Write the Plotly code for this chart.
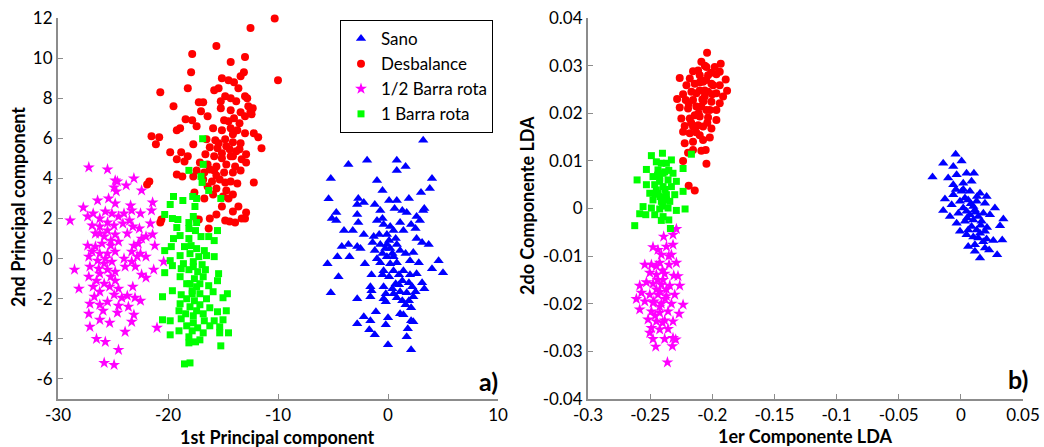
import plotly.graph_objects as go

# ---------------- PCA projection (panel a) ----------------
sano_pca = [
    (3.2, 5.9), (-3.6, 4.7), (-1.9, 4.9), (0.8, 4.9), (1.6, 4.6), (0.8, 4.4), (-5.2, 4.0), (-1.0, 3.9),
    (4.0, 4.0), (-0.5, 3.4), (3.0, 3.3), (3.8, 3.5), (-5.4, 2.98), (-2.7, 3.0), (-2.2, 2.8), (-2.8, 2.7),
    (0.1, 2.9), (0.8, 2.9), (1.9, 3.0), (-1.2, 2.7), (-4.7, 2.3), (-5.1, 2.0), (-4.7, 1.9), (-2.8, 2.2),
    (-0.7, 2.4), (0.6, 2.5), (1.3, 2.4), (1.7, 2.3), (2.6, 2.1), (3.3, 2.5), (3.2, 2.4), (2.9, 1.9),
    (-2.7, 1.8), (-1.0, 1.9), (-0.5, 2.0), (-0.4, 1.7), (0.2, 1.6), (0.5, 1.4), (1.1, 1.8), (1.4, 1.4),
    (2.1, 1.7), (2.5, 1.5), (-4.0, 1.4), (-3.2, 1.4), (-2.2, 1.2), (-1.3, 1.1), (-0.8, 1.2), (-0.1, 1.2),
    (0.7, 1.0), (2.6, 1.0), (3.1, 0.8), (3.7, 0.7), (-4.2, 0.6), (-3.6, 0.7), (-2.8, 0.6), (-2.5, 0.5),
    (-1.4, 0.8), (-0.7, 0.7), (-0.1, 0.7), (0.2, 0.5), (0.8, 0.7), (1.1, 0.4), (1.6, 0.25), (2.3, 0.3),
    (-1.2, 0.4), (-0.5, 0.25), (-0.1, 0.1), (0.4, 0.25), (-4.6, 0.1), (-3.5, 0.1), (-5.5, -0.25), (-2.1, -0.25),
    (-0.7, -0.2), (0.2, -0.25), (0.8, -0.2), (2.0, -0.1), (2.8, -0.2), (4.6, -0.1), (4.0, -0.5), (5.0, -0.7),
    (-4.5, -0.9), (-1.5, -0.8), (-0.5, -0.8), (0.5, -0.6), (1.4, -0.6), (2.0, -0.8), (2.6, -0.75), (1.3, -1.1),
    (1.9, -1.2), (-1.6, -1.4), (-0.4, -1.4), (0.4, -1.5), (1.0, -1.3), (2.2, -1.4), (3.1, -1.2), (3.3, -1.5),
    (-1.5, -1.6), (-0.2, -1.75), (0.5, -1.75), (1.1, -1.65), (1.7, -1.7), (2.5, -1.65), (-5.2, -1.7), (-2.8, -2.0),
    (-1.6, -1.9), (-0.4, -2.0), (-0.2, -2.15), (0.8, -1.95), (1.3, -2.1), (1.6, -2.3), (2.3, -1.9), (1.9, -2.1),
    (2.1, -2.45), (1.1, -2.75), (1.4, -2.8), (-1.1, -2.65), (-2.2, -2.9), (0.0, -2.95), (-1.6, -3.1), (2.1, -3.1),
    (2.3, -3.15), (-2.8, -3.25), (-0.2, -3.3), (-1.7, -3.55), (1.8, -3.5), (-1.2, -3.8), (1.7, -3.9), (0.0, -4.3),
    (2.1, -4.55), (0.1, 0.9), (-0.25, 0.5), (0.5, 0.1), (-0.4, -0.6), (0.1, -0.9), (1.0, -0.8), (0.7, -1.25),
    (-1.0, 0.0),
]

desbalance_pca = [
    (-10.3, 11.97), (-12.5, 11.5), (-13.0, 10.05), (-14.3, 9.8), (-15.6, 10.6), (-17.8, 10.2), (-17.9, 9.3),
    (-10.0, 8.9), (-13.1, 9.3), (-13.4, 9.1), (-15.1, 9.0), (-14.5, 8.9), (-14.0, 8.8), (-18.2, 8.5),
    (-20.7, 8.3), (-15.8, 8.4), (-15.4, 8.5), (-13.6, 8.5), (-14.8, 8.1), (-14.3, 8.0), (-13.0, 8.1),
    (-12.8, 8.0), (-13.8, 7.85), (-15.2, 7.85), (-19.5, 7.6), (-17.2, 7.8), (-16.8, 7.8), (-12.7, 7.6),
    (-12.5, 7.35), (-12.3, 7.5), (-17.0, 7.35), (-15.2, 7.5), (-14.3, 7.4), (-13.4, 7.3), (-16.4, 7.1),
    (-14.0, 7.0), (-13.0, 7.1), (-12.4, 7.2), (-18.4, 6.95), (-17.8, 6.9), (-14.9, 6.9), (-14.5, 6.85),
    (-13.5, 6.75), (-18.9, 6.5), (-19.2, 6.4), (-17.4, 6.6), (-15.9, 6.5), (-15.1, 6.4), (-14.3, 6.5),
    (-13.7, 6.4), (-13.0, 6.25), (-21.5, 6.1), (-20.8, 6.05), (-21.1, 5.7), (-12.2, 6.25), (-11.8, 6.05),
    (-11.5, 5.5), (-17.7, 5.7), (-16.5, 5.95), (-15.7, 5.9), (-14.8, 5.95), (-14.1, 5.8), (-13.4, 5.75),
    (-16.2, 5.55), (-15.5, 5.5), (-14.4, 5.45), (-13.8, 5.35), (-12.9, 5.2), (-19.8, 5.3), (-18.8, 5.3),
    (-18.2, 5.1), (-16.6, 5.2), (-15.8, 5.1), (-15.1, 5.0), (-14.3, 5.1), (-13.3, 4.95), (-19.2, 4.95),
    (-18.5, 4.85), (-17.1, 4.8), (-16.4, 4.7), (-15.6, 4.6), (-14.7, 4.7), (-13.9, 4.6), (-12.9, 4.8),
    (-17.4, 4.4), (-16.7, 4.3), (-15.8, 4.4), (-14.9, 4.3), (-13.4, 4.4), (-19.2, 4.2), (-18.7, 4.1),
    (-17.7, 4.1), (-16.8, 3.95), (-16.0, 3.85), (-15.3, 3.95), (-14.3, 3.85), (-13.7, 3.75), (-12.2, 3.8),
    (-21.7, 3.85), (-21.9, 3.7), (-16.4, 3.6), (-15.6, 3.5), (-14.7, 3.4), (-17.6, 3.3), (-15.9, 3.2),
    (-15.0, 3.1), (-14.1, 3.2), (-16.7, 3.0), (-14.5, 3.0), (-15.1, 2.6), (-13.6, 2.6), (-14.1, 2.35),
    (-12.9, 2.3), (-15.6, 2.2), (-13.3, 2.0), (-17.2, 1.95), (-16.2, 2.0), (-14.8, 1.9), (-14.4, 1.85),
    (-13.9, 1.8), (-13.0, 2.0), (-20.6, 1.95), (-20.7, 1.8), (-16.3, 1.5), (-17.4, 1.95), (-15.4, 5.75),
    (-14.7, 5.6), (-15.1, 5.25), (-14.1, 5.1), (-15.6, 4.15), (-14.1, 4.3), (-14.8, 3.8), (-16.2, 4.45),
    (-14.1, 6.2), (-13.5, 5.45),
]

media_barra_pca = [
    (-27.2, 4.55), (-25.5, 4.45), (-24.8, 3.9), (-24.6, 3.85), (-23.1, 4.0), (-23.8, 3.65), (-22.4, 3.4),
    (-24.9, 3.55), (-24.7, 3.35), (-27.7, 2.55), (-26.4, 2.9), (-25.4, 3.0), (-24.8, 2.75), (-23.4, 2.65),
    (-23.3, 2.4), (-21.4, 2.8), (-21.5, 2.4), (-28.9, 1.9), (-27.3, 2.1), (-26.8, 2.25), (-26.2, 2.0),
    (-25.7, 2.35), (-25.1, 2.25), (-24.5, 2.1), (-24.0, 2.25), (-23.5, 1.9), (-22.5, 2.25), (-21.6, 1.75),
    (-26.9, 1.65), (-26.2, 1.6), (-25.5, 1.8), (-24.9, 1.65), (-24.1, 1.75), (-23.2, 1.6), (-22.6, 1.5),
    (-26.6, 1.25), (-25.8, 1.1), (-24.8, 1.2), (-23.7, 1.25), (-22.4, 1.0), (-22.0, 1.1), (-21.4, 1.2),
    (-27.3, 0.65), (-26.6, 0.6), (-26.0, 0.75), (-25.2, 0.65), (-24.5, 0.85), (-23.1, 0.65), (-22.7, 0.75),
    (-21.2, 0.65), (-26.9, 0.35), (-26.2, 0.25), (-25.5, 0.25), (-24.8, 0.35), (-23.3, 0.35), (-22.5, 0.25),
    (-22.0, 0.1), (-27.2, 0.1), (-26.4, -0.1), (-25.7, 0.0), (-25.1, -0.15), (-24.0, 0.0), (-23.3, -0.15),
    (-22.8, 0.1), (-20.4, -0.15), (-28.5, -0.55), (-27.1, -0.4), (-26.3, -0.5), (-25.5, -0.55), (-24.8, -0.65),
    (-23.9, -0.4), (-22.97, -0.4), (-21.3, -0.55), (-22.4, -0.8), (-22.0, -0.95), (-27.2, -0.9), (-26.5, -1.1),
    (-25.8, -1.25), (-24.8, -1.1), (-25.3, -1.4), (-26.8, -1.4), (-28.1, -1.5), (-26.2, -1.65), (-24.5, -1.5),
    (-23.2, -1.4), (-26.7, -1.9), (-24.9, -1.8), (-24.2, -1.95), (-23.7, -1.85), (-23.0, -1.95), (-22.5, -2.1),
    (-27.1, -2.25), (-26.2, -2.3), (-25.5, -2.15), (-24.5, -2.35), (-23.6, -2.4), (-25.9, -2.6), (-24.6, -2.7),
    (-27.2, -2.75), (-23.1, -2.8), (-27.1, -3.4), (-26.2, -3.05), (-25.3, -3.2), (-23.3, -3.15), (-21.0, -3.45),
    (-26.5, -4.0), (-23.9, -3.65), (-25.7, -4.15), (-24.5, -4.55), (-25.8, -5.2), (-24.9, -5.3), (-26.2, 1.25),
    (-25.5, 1.4), (-25.2, 0.9), (-25.8, -0.25), (-26.2, -0.75), (-25.2, -0.9),
]

una_barra_pca = [
    (-16.85, 5.98), (-16.8, 4.7), (-18.1, 4.4), (-17.0, 4.1), (-16.9, 3.8), (-16.3, 3.4), (-15.2, 3.0),
    (-19.5, 3.1), (-18.65, 2.9), (-17.75, 3.1), (-17.4, 3.0), (-19.8, 2.7), (-17.55, 2.6), (-20.3, 2.2),
    (-19.6, 2.0), (-19.1, 1.95), (-17.7, 2.1), (-18.1, 1.8), (-17.4, 1.8), (-19.2, 1.55), (-18.1, 1.5),
    (-17.5, 1.4), (-15.5, 1.4), (-16.3, 1.1), (-19.5, 1.0), (-18.9, 1.15), (-18.1, 1.0), (-17.0, 1.1),
    (-15.8, 0.9), (-20.3, 0.4), (-19.7, 0.6), (-18.5, 0.6), (-17.9, 0.65), (-17.4, 0.5), (-16.7, 0.4),
    (-18.9, 0.15), (-18.0, 0.25), (-17.2, 0.1), (-16.5, 0.15), (-15.8, 0.1), (-19.8, -0.1), (-18.6, -0.25),
    (-17.7, -0.15), (-16.9, -0.3), (-19.6, -0.35), (-18.8, -0.5), (-18.1, -0.55), (-17.3, -0.65), (-16.6, -0.55),
    (-20.3, -0.7), (-18.9, -0.9), (-17.6, -1.0), (-16.8, -0.9), (-15.4, -0.75), (-15.5, -1.1), (-18.3, -1.25),
    (-17.4, -1.4), (-16.3, -1.35), (-17.8, -1.6), (-17.1, -1.75), (-19.6, -1.6), (-15.9, -1.65), (-18.8, -1.8),
    (-14.6, -1.75), (-20.5, -1.9), (-18.3, -2.0), (-17.6, -2.1), (-16.5, -2.0), (-15.0, -1.95), (-18.9, -2.25),
    (-18.0, -2.4), (-17.1, -2.3), (-16.2, -2.45), (-19.0, -2.6), (-18.4, -2.75), (-17.7, -2.85), (-16.8, -2.75),
    (-15.5, -2.65), (-14.7, -2.6), (-20.5, -3.05), (-19.8, -3.1), (-18.8, -3.0), (-17.7, -3.2), (-16.7, -3.1),
    (-15.8, -3.1), (-15.0, -3.05), (-18.3, -3.35), (-17.3, -3.45), (-16.2, -3.35), (-15.3, -3.4), (-19.0, -3.6),
    (-17.8, -3.6), (-16.8, -3.7), (-15.3, -3.7), (-14.5, -3.7), (-19.8, -3.8), (-18.1, -3.9), (-17.1, -4.05),
    (-18.1, -4.2), (-17.5, -4.15), (-15.2, -4.35), (-18.5, -5.25), (-18.0, -5.2), (-17.7, -0.4), (-17.1, -1.25),
    (-17.8, -1.75), (-17.4, -2.6), (-18.0, -1.25),
]

# ---------------- LDA projection (panel b) ----------------
sano_lda = [
    (-0.0042, 0.0114), (-0.0142, 0.0095), (-0.0061, 0.0088), (0.0006, 0.0100), (-0.0228, 0.0066),
    (-0.0102, 0.0064), (-0.0034, 0.0071), (0.0046, 0.0074), (0.0105, 0.0074), (-0.0061, 0.0050),
    (0.0019, 0.0053), (0.0086, 0.0057), (-0.0128, 0.0020), (-0.0061, 0.0029), (0.0006, 0.0036),
    (0.0073, 0.0036), (0.0154, 0.0032), (0.0207, 0.0025), (-0.0142, -0.0004), (-0.0074, 0.0008),
    (-0.0007, 0.0015), (0.0059, 0.0018), (0.0127, 0.0015), (0.0194, 0.0011), (0.0274, 0.0001),
    (-0.0088, -0.0017), (-0.0020, -0.0010), (0.0046, -0.0006), (0.0113, -0.0003), (0.0181, -0.0010),
    (0.0234, -0.0013), (0.0342, -0.0022), (-0.0034, -0.0031), (0.0033, -0.0027), (0.0100, -0.0024),
    (0.0167, -0.0027), (0.0315, -0.0036), (-0.0007, -0.0048), (0.0059, -0.0045), (0.0127, -0.0045),
    (0.0194, -0.0048), (0.0046, -0.0055), (0.0140, -0.0062), (0.0207, -0.0064), (0.0261, -0.0067),
    (0.0333, -0.0066), (0.0059, -0.0080), (0.0113, -0.0076), (0.0194, -0.0083), (0.0113, -0.0090),
    (0.0228, -0.0087), (0.0292, -0.0097), (0.0154, -0.0104), (0.0100, 0.0004), (0.0073, -0.0013),
    (0.0140, -0.0017), (0.0019, 0.0001), (0.0086, -0.0038), (0.0154, -0.0052), (0.0033, 0.0022),
    (0.0080, 0.0010), (0.0120, -0.0008), (0.0160, -0.0035), (0.0050, -0.0020), (0.0100, -0.0060),
    (0.0180, -0.0070), (0.0210, -0.0040), (0.0020, 0.0040), (-0.0040, 0.0040), (0.0130, 0.0025),
]

desbalance_lda = [
    (-0.2042, 0.0327), (-0.2088, 0.0308), (-0.1932, 0.0304), (-0.2155, 0.0288), (-0.2114, 0.0290),
    (-0.2047, 0.0297), (-0.1980, 0.0297), (-0.1940, 0.0287), (-0.2262, 0.0274), (-0.2181, 0.0273),
    (-0.2101, 0.0280), (-0.2034, 0.0280), (-0.1967, 0.0282), (-0.1892, 0.0271), (-0.1881, 0.0247),
    (-0.2208, 0.0259), (-0.2141, 0.0262), (-0.2074, 0.0266), (-0.2007, 0.0262), (-0.1940, 0.0259),
    (-0.2235, 0.0240), (-0.2168, 0.0245), (-0.2101, 0.0248), (-0.2034, 0.0245), (-0.1967, 0.0242),
    (-0.1913, 0.0235), (-0.2283, 0.0230), (-0.2214, 0.0228), (-0.2155, 0.0228), (-0.2080, 0.0229),
    (-0.2007, 0.0224), (-0.1940, 0.0221), (-0.2262, 0.0212), (-0.2195, 0.0210), (-0.2128, 0.0214),
    (-0.2047, 0.0207), (-0.1967, 0.0207), (-0.2249, 0.0189), (-0.2181, 0.0189), (-0.2101, 0.0193),
    (-0.2034, 0.0191), (-0.1967, 0.0186), (-0.2222, 0.0173), (-0.2155, 0.0172), (-0.2074, 0.0172),
    (-0.2007, 0.0168), (-0.2235, 0.0161), (-0.2181, 0.0158), (-0.2101, 0.0154), (-0.2020, 0.0149),
    (-0.2222, 0.0137), (-0.2155, 0.0140), (-0.2074, 0.0144), (-0.2195, 0.0117), (-0.2155, 0.0123),
    (-0.2088, 0.0121), (-0.2053, 0.0123), (-0.2235, 0.0100), (-0.2047, 0.0094), (-0.2190, 0.0048),
    (-0.2141, 0.0038), (-0.2128, 0.0242), (-0.2061, 0.0235), (-0.2088, 0.0214), (-0.2141, 0.0196),
    (-0.2020, 0.0207), (-0.2114, 0.0175), (-0.2061, 0.0248), (-0.1993, 0.0259), (-0.2100, 0.0265),
    (-0.2050, 0.0270), (-0.2000, 0.0240), (-0.2070, 0.0225), (-0.2110, 0.0200), (-0.2040, 0.0180),
    (-0.2130, 0.0160), (-0.2170, 0.0180), (-0.2190, 0.0220), (-0.2010, 0.0285), (-0.2060, 0.0300),
]

media_barra_lda = [
    (-0.2289, -0.0043), (-0.2316, -0.0055), (-0.2391, -0.0059), (-0.2477, -0.0081), (-0.2437, -0.0087),
    (-0.2369, -0.0080), (-0.2316, -0.0076), (-0.2410, -0.0097), (-0.2329, -0.0097), (-0.2543, -0.0118),
    (-0.2490, -0.0118), (-0.2423, -0.0114), (-0.2348, -0.0118), (-0.2289, -0.0114), (-0.2503, -0.0135),
    (-0.2450, -0.0139), (-0.2383, -0.0137), (-0.2310, -0.0141), (-0.2276, -0.0142), (-0.2530, -0.0155),
    (-0.2477, -0.0158), (-0.2410, -0.0160), (-0.2342, -0.0162), (-0.2584, -0.0162), (-0.2262, -0.0162),
    (-0.2570, -0.0177), (-0.2503, -0.0181), (-0.2437, -0.0181), (-0.2369, -0.0184), (-0.2302, -0.0181),
    (-0.2611, -0.0190), (-0.2543, -0.0195), (-0.2477, -0.0198), (-0.2410, -0.0200), (-0.2329, -0.0200),
    (-0.2235, -0.0202), (-0.2584, -0.0212), (-0.2490, -0.0216), (-0.2423, -0.0219), (-0.2356, -0.0216),
    (-0.2267, -0.0221), (-0.2517, -0.0233), (-0.2450, -0.0237), (-0.2383, -0.0235), (-0.2316, -0.0237),
    (-0.2490, -0.0251), (-0.2423, -0.0254), (-0.2356, -0.0253), (-0.2503, -0.0261), (-0.2316, -0.0272),
    (-0.2477, -0.0274), (-0.2383, -0.0274), (-0.2294, -0.0275), (-0.2455, -0.0290), (-0.2321, -0.0289),
    (-0.2361, -0.0323), (-0.2450, -0.0170), (-0.2396, -0.0150), (-0.2423, -0.0206), (-0.2450, -0.0121),
    (-0.2369, -0.0170), (-0.2400, -0.0130), (-0.2440, -0.0150), (-0.2380, -0.0190), (-0.2460, -0.0225),
    (-0.2400, -0.0240), (-0.2350, -0.0100), (-0.2420, -0.0175), (-0.2470, -0.0195),
]

una_barra_lda = [
    (-0.2490, 0.0111), (-0.2401, 0.0116), (-0.2329, 0.0102), (-0.2168, 0.0114), (-0.2450, 0.0098),
    (-0.2369, 0.0095), (-0.2530, 0.0082), (-0.2235, 0.0084), (-0.2437, 0.0081), (-0.2383, 0.0077),
    (-0.2316, 0.0074), (-0.2605, 0.0060), (-0.2477, 0.0067), (-0.2423, 0.0064), (-0.2356, 0.0060),
    (-0.2289, 0.0057), (-0.2530, 0.0050), (-0.2463, 0.0050), (-0.2396, 0.0046), (-0.2329, 0.0046),
    (-0.2235, 0.0036), (-0.2503, 0.0032), (-0.2437, 0.0032), (-0.2369, 0.0029), (-0.2302, 0.0029),
    (-0.2477, 0.0018), (-0.2410, 0.0015), (-0.2342, 0.0015), (-0.2557, 0.0004), (-0.2490, 0.0001),
    (-0.2423, -0.0001), (-0.2356, 0.0001), (-0.2219, -0.0001), (-0.2289, -0.0004), (-0.2584, -0.0011),
    (-0.2535, -0.0013), (-0.2463, -0.0013), (-0.2396, -0.0017), (-0.2350, -0.0024), (-0.2624, -0.0036),
    (-0.2337, -0.0042), (-0.2410, -0.0025), (-0.2423, 0.0057), (-0.2396, 0.0074), (-0.2450, 0.0039),
    (-0.2369, 0.0018), (-0.2410, 0.0095), (-0.2440, 0.0070), (-0.2380, 0.0040), (-0.2420, 0.0025),
    (-0.2460, 0.0030), (-0.2350, 0.0080), (-0.2400, 0.0005),
]

series_names = ["Sano", "Desbalance", "1/2 Barra rota", "1 Barra rota"]
series_colors = ["#0000FF", "#FF0000", "#FF00FF", "#00FF00"]
series_symbols = ["triangle-up", "circle", "star", "square"]
series_sizes = [9, 8, 9, 7]

pca_groups = [sano_pca, desbalance_pca, media_barra_pca, una_barra_pca]
lda_groups = [sano_lda, desbalance_lda, media_barra_lda, una_barra_lda]

# axis tick labels
pca_xticks = [-30, -20, -10, 0, 10]
pca_xlabels = ["-30", "-20", "-10", "0", "10"]
pca_yticks = [-6, -4, -2, 0, 2, 4, 6, 8, 10, 12]
pca_ylabels = ["-6", "-4", "-2", "0", "2", "4", "6", "8", "10", "12"]
lda_xticks = [-0.3, -0.25, -0.2, -0.15, -0.1, -0.05, 0, 0.05]
lda_xlabels = ["-0.3", "-0.25", "-0.2", "-0.15", "-0.1", "-0.05", "0", "0.05"]
lda_yticks = [-0.04, -0.03, -0.02, -0.01, 0, 0.01, 0.02, 0.03, 0.04]
lda_ylabels = ["-0.04", "-0.03", "-0.02", "-0.01", "0", "0.01", "0.02", "0.03", "0.04"]

fig = go.Figure()

for name, col, sym, sz, pts in zip(series_names, series_colors, series_symbols, series_sizes, pca_groups):
    fig.add_trace(go.Scatter(
        x=[p[0] for p in pts], y=[p[1] for p in pts], mode="markers", name=name,
        marker=dict(symbol=sym, color=col, size=sz, line=dict(width=0)),
        xaxis="x", yaxis="y", showlegend=True, cliponaxis=False,
    ))

for name, col, sym, sz, pts in zip(series_names, series_colors, series_symbols, series_sizes, lda_groups):
    fig.add_trace(go.Scatter(
        x=[p[0] for p in pts], y=[p[1] for p in pts], mode="markers", name=name,
        marker=dict(symbol=sym, color=col, size=sz, line=dict(width=0)),
        xaxis="x2", yaxis="y2", showlegend=False, cliponaxis=False,
    ))

W, H = 1044, 447
FONT = "Lato"
tick_font = dict(family=FONT, size=17, color="black")
title_font = dict(family=FONT, size=18, color="black")
axis_common = dict(
    showline=True, linecolor="#8c8c8c", linewidth=2, ticks="inside", ticklen=5,
    tickcolor="#8c8c8c", showgrid=False, zeroline=False, tickfont=tick_font,
    mirror=False, automargin=False,
)

y_dom = [(H - 399) / H, (H - 18) / H]


def paper_x(px):
    return px / W


def paper_y(py):
    return (H - py) / H


fig.update_layout(
    width=W, height=H,
    margin=dict(l=0, r=0, t=0, b=0),
    plot_bgcolor="white", paper_bgcolor="white",
    xaxis=dict(axis_common, domain=[58 / W, 498 / W], range=[-30, 10],
               tickvals=pca_xticks, ticktext=pca_xlabels),
    yaxis=dict(axis_common, domain=y_dom, range=[-7, 12],
               tickvals=pca_yticks, ticktext=pca_ylabels),
    xaxis2=dict(axis_common, domain=[588 / W, 1023 / W], range=[-0.3, 0.05], anchor="y2",
                tickvals=lda_xticks, ticktext=lda_xlabels),
    yaxis2=dict(axis_common, domain=y_dom, range=[-0.04, 0.04], anchor="x2",
                tickvals=lda_yticks, ticktext=lda_ylabels),
    legend=dict(
        x=340 / W, y=(H - 20) / H, xanchor="left", yanchor="top",
        bordercolor="black", borderwidth=1, bgcolor="white",
        font=dict(family=FONT, size=17, color="black"),
        itemsizing="trace",
    ),
    annotations=[
        dict(text="<b>1st Principal component</b>", x=paper_x(277), y=paper_y(437),
             xref="paper", yref="paper", xanchor="center", yanchor="middle",
             showarrow=False, font=title_font),
        dict(text="<b>2nd Principal component</b>", x=paper_x(18), y=paper_y(207),
             xref="paper", yref="paper", xanchor="center", yanchor="middle",
             showarrow=False, textangle=-90, font=title_font),
        dict(text="<b>1er Componente LDA</b>", x=paper_x(805), y=paper_y(436),
             xref="paper", yref="paper", xanchor="center", yanchor="middle",
             showarrow=False, font=title_font),
        dict(text="<b>2do Componente LDA</b>", x=paper_x(527), y=paper_y(206),
             xref="paper", yref="paper", xanchor="center", yanchor="middle",
             showarrow=False, textangle=-90, font=title_font),
        dict(text="<b>a)</b>", x=paper_x(500), y=paper_y(381), xref="paper", yref="paper",
             xanchor="right", yanchor="middle", showarrow=False,
             font=dict(family=FONT, size=25, color="black")),
        dict(text="<b>b)</b>", x=paper_x(1030), y=paper_y(379), xref="paper", yref="paper",
             xanchor="right", yanchor="middle", showarrow=False,
             font=dict(family=FONT, size=25, color="black")),
    ],
)

fig.write_html("out.html")
